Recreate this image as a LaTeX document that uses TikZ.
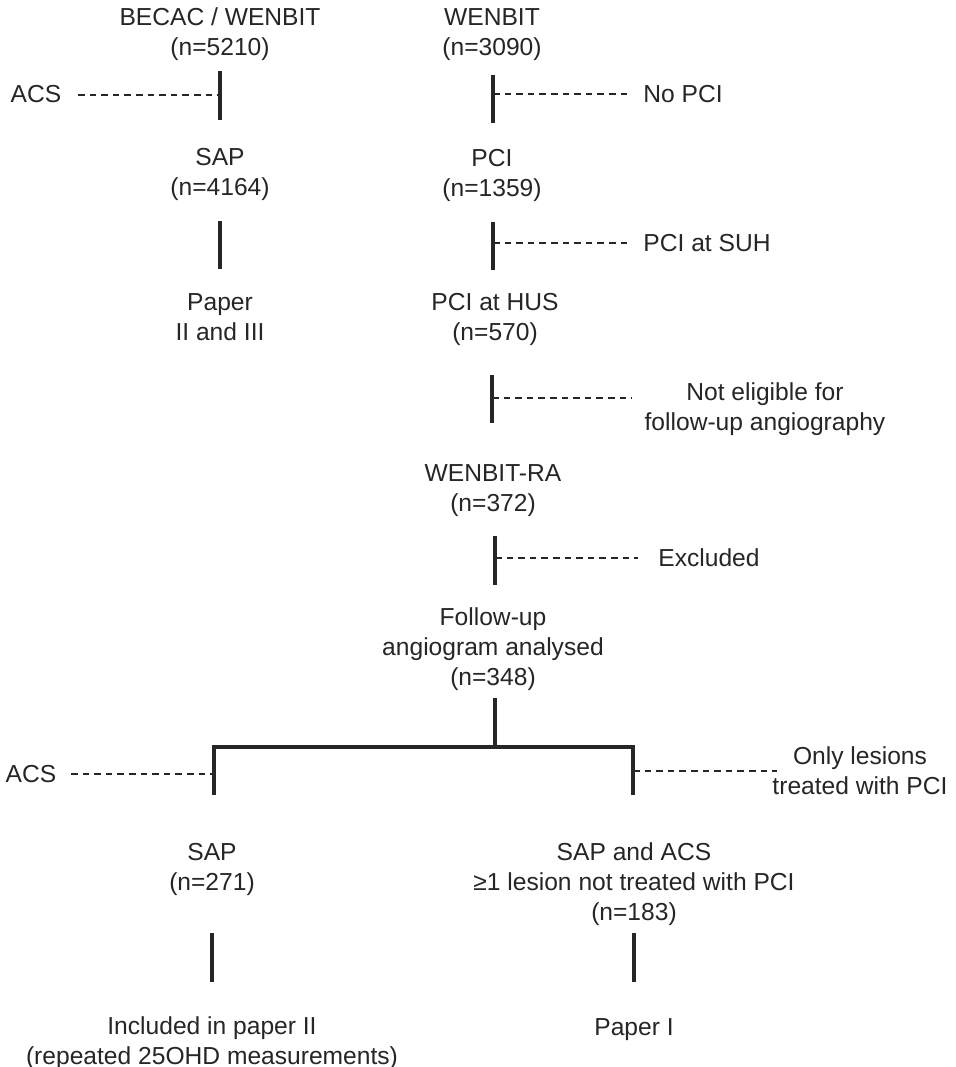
\documentclass[tikz,border=0pt]{standalone}
\usepackage{fontspec}
\setmainfont{Liberation Sans}
\definecolor{ink}{HTML}{262626}
\newcommand{\sr}{\rule[-3.3pt]{0pt}{15pt}}
\begin{document}
\begin{tikzpicture}[x=0.5pt,y=-0.5pt,
  lbl/.style={inner sep=0pt,align=center,text=ink,font=\fontsize{12.3}{15}\selectfont},
  bar/.style={draw=ink,line width=2pt},
  thinbar/.style={draw=ink,line width=1.6pt},
  dashline/.style={draw=ink,line width=0.9pt,dash pattern=on 3.3pt off 2.5pt}]
\useasboundingbox (0,0) rectangle (956,1067);
\fill[white] (0,0) rectangle (956,1067);
% ---- left column
\node[lbl] (becac) at (220,32.5) {\sr BECAC / WENBIT\\\sr (n=5210)};
\node[lbl] (acs1) at (36,94) {\sr ACS};
\node[lbl] (sap1) at (220,172.5) {\sr SAP\\\sr (n=4164)};
\node[lbl] (paper23) at (220,317) {\sr Paper\\\sr II and III};
\coordinate (l1a) at (220,71); \coordinate (l1b) at (220,120);
\coordinate (l1d) at (78,95); \coordinate (l1m) at (220,95);
\coordinate (l2a) at (220,221); \coordinate (l2b) at (220,269);
\draw[bar] (l1a) -- (l1b);
\draw[dashline] (l1d) -- (l1m);
\draw[bar] (l2a) -- (l2b);
% ---- right column
\node[lbl] (wenbit) at (492,32.5) {\sr WENBIT\\\sr (n=3090)};
\node[lbl] (nopci) at (683,94) {\sr No PCI};
\node[lbl] (pci) at (492,173) {\sr PCI\\\sr (n=1359)};
\node[lbl] (suh) at (707,243) {\sr PCI at SUH};
\node[lbl] (hus) at (495,317) {\sr PCI at HUS\\\sr (n=570)};
\node[lbl] (noteleg) at (765,407) {\sr Not eligible for\\\sr follow-up angiography};
\node[lbl] (wra) at (493,488) {\sr WENBIT-RA\\\sr (n=372)};
\node[lbl] (excl) at (709,558) {\sr Excluded};
\node[lbl] (fu) at (493,647) {\sr Follow-up\\\sr angiogram analysed\\\sr (n=348)};
\coordinate (r1a) at (493,75); \coordinate (r1b) at (493,123);
\coordinate (r1m) at (493,94); \coordinate (r1d) at (632,94);
\coordinate (r2a) at (493,222); \coordinate (r2b) at (493,270);
\coordinate (r2m) at (493,243); \coordinate (r2d) at (632,243);
\coordinate (r3a) at (492,375); \coordinate (r3b) at (492,423);
\coordinate (r3m) at (492,398); \coordinate (r3d) at (632,398);
\coordinate (r4a) at (495,536); \coordinate (r4b) at (495,585);
\coordinate (r4m) at (495,558); \coordinate (r4d) at (638,558);
\draw[bar] (r1a) -- (r1b); \draw[dashline] (r1m) -- (r1d);
\draw[bar] (r2a) -- (r2b); \draw[dashline] (r2m) -- (r2d);
\draw[bar] (r3a) -- (r3b); \draw[dashline] (r3m) -- (r3d);
\draw[bar] (r4a) -- (r4b); \draw[dashline] (r4m) -- (r4d);
% ---- split
\coordinate (t0) at (495,698); \coordinate (tj) at (495,747);
\coordinate (tl) at (214,747); \coordinate (tr) at (633,747);
\coordinate (tlb) at (214,795); \coordinate (trb) at (633,795);
\draw[bar] (t0) -- (tj);
\draw[bar,line join=miter] (tlb) -- (tl) -- (tr) -- (trb);
\node[lbl] (acs2) at (31,774) {\sr ACS};
\coordinate (ad) at (71,774); \coordinate (am) at (214,774);
\draw[dashline] (ad) -- (am);
\node[lbl] (only) at (860,771) {\sr Only lesions\\\sr treated with PCI};
\coordinate (om) at (633,771); \coordinate (od) at (777,771);
\draw[dashline] (om) -- (od);
% ---- bottom
\node[lbl] (sap2) at (212,867) {\sr SAP\\\sr (n=271)};
\node[lbl] (sapacs) at (634,882) {\sr SAP and ACS\\\sr ≥1 lesion not treated with PCI\\\sr (n=183)};
\coordinate (b1a) at (212,933); \coordinate (b1b) at (212,982);
\coordinate (b2a) at (634,933); \coordinate (b2b) at (634,982);
\draw[thinbar] (b1a) -- (b1b);
\draw[thinbar] (b2a) -- (b2b);
\node[lbl] (incl) at (212,1041) {\sr Included in paper II\\\sr (repeated 25OHD measurements)};
\node[lbl] (paper1) at (634,1027) {\sr Paper I};
\end{tikzpicture}
\end{document}
